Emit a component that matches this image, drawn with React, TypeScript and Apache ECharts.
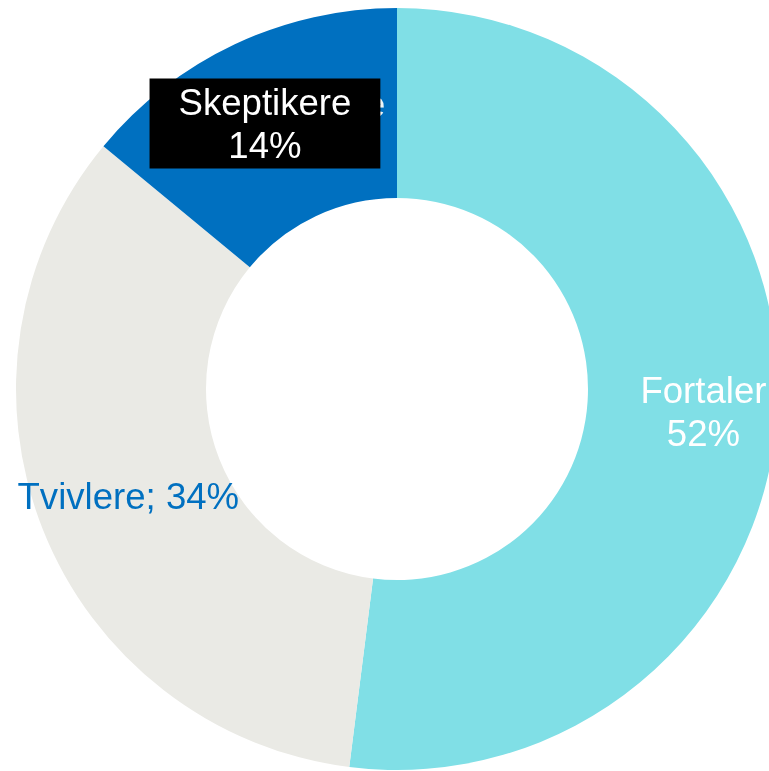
import React, { useEffect, useRef } from "react";
import * as echarts from "echarts";

const categories = ["Fortaler", "Tvivlere", "Skeptikere"];
const values = [52, 34, 14];
const colors = ["#80DFE6", "#EAEAE5", "#0070C0"];

export default function App() {
  const ref = useRef<HTMLDivElement>(null);
  useEffect(() => {
    const chart = echarts.init(ref.current!, null, { renderer: "svg" });
    const font = "'Liberation Sans', Arial, sans-serif";
    const fs = 36.6;
    const lh = 43;
    const baseLabels = [
      { show: true, position: "inside", formatter: "{b}\n{c}%", color: "#ffffff", offset: [18, 5] },
      { show: true, position: "inside", formatter: "{b}; {c}%", color: "#0070C0", offset: [0, 1] },
      { show: true, position: "inside", formatter: "{b}", color: "#eef6f8", offset: [25, -23] },
    ];
    const common = {
      type: "pie",
      center: [397, 389],
      radius: [191, 381],
      startAngle: 90,
      clockwise: true,
      avoidLabelOverlap: false,
      labelLine: { show: false },
      labelLayout: { hideOverlap: false },
      emphasis: { disabled: true },
      silent: true,
    };
    chart.setOption({
      animation: false,
      series: [
        {
          ...common,
          name: "base",
          z: 2,
          data: categories.map((name, i) => ({
            name,
            value: values[i],
            itemStyle: { color: colors[i], borderWidth: 0 },
            label: { ...baseLabels[i], fontSize: fs, fontFamily: font, lineHeight: lh },
          })),
        },
        {
          ...common,
          name: "overlay",
          z: 3,
          data: categories.map((name, i) => ({
            name,
            value: values[i],
            itemStyle: { color: "rgba(0,0,0,0)", borderWidth: 0 },
            label:
              i === 2
                ? {
                    show: true,
                    position: "inside",
                    formatter: "{b}\n{c}%",
                    color: "#ffffff",
                    backgroundColor: "#000000",
                    padding: [2, 29, 2, 29],
                    offset: [-9, -4],
                    fontSize: fs,
                    fontFamily: font,
                    lineHeight: lh,
                  }
                : { show: false },
          })),
        },
      ],
    });
    return () => chart.dispose();
  }, []);
  return (
    <div
      ref={ref}
      style={{ position: "fixed", left: 0, top: 0, width: 769, height: 771 }}
    />
  );
}
